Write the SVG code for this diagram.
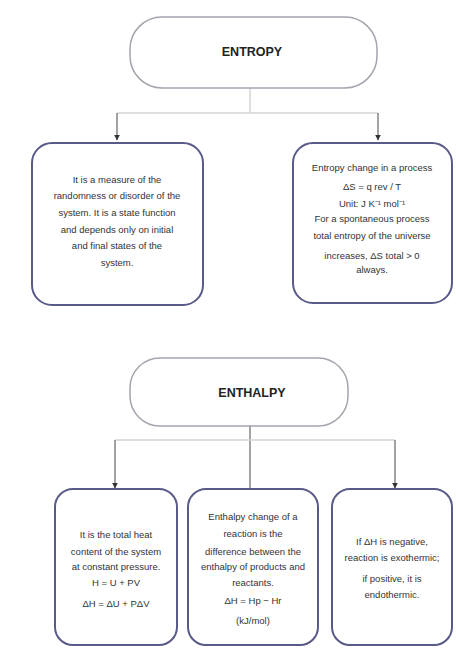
<svg xmlns="http://www.w3.org/2000/svg" width="456" height="652" viewBox="0 0 456 652">
<defs>
<marker id="arr" viewBox="0 0 10 10" refX="9" refY="5" markerWidth="5" markerHeight="5" orient="auto"><path d="M0,0 L10,5 L0,10 z" fill="#333"/></marker>
<style>
.pill{fill:#fff;stroke:#a4a4ae;stroke-width:1.5}
.box{fill:#fff;stroke:#5a5a88;stroke-width:2}
.title{font-family:"Liberation Sans",Arial,sans-serif;font-size:12.5px;font-weight:bold;fill:#222;text-anchor:middle}
.body{font-family:"Liberation Sans",Arial,sans-serif;font-size:9.5px;fill:#333;text-anchor:middle}
.con{fill:none;stroke:#d4d4d4;stroke-width:1.5}
.con2{fill:none;stroke:#666;stroke-width:1.2}
</style>
</defs>
<rect width="456" height="652" fill="#fff"/>
<g id="connectors">
<path class="con" d="M250,88 V113"/>
<path class="con" d="M117,113 H378"/>
<path class="con2" d="M117,113 V140" marker-end="url(#arr)"/>
<path class="con2" d="M378,113 V140" marker-end="url(#arr)"/>
<path class="con2" d="M250,426 V489"/>
<path class="con" d="M250,440 H115 M250,440 H395"/>
<path class="con2" d="M115,440 V488" marker-end="url(#arr)"/>
<path class="con2" d="M395,440 V488" marker-end="url(#arr)"/>
</g>
<g id="entropy">
<rect class="pill" x="130" y="17" width="247" height="71" rx="32"/>
<text class="title" x="252" y="56">ENTROPY</text>
</g>
<g id="entropy-definition">
<rect class="box" x="32" y="143" width="171" height="162" rx="20"/>
<text class="body" x="117" y="183">It is a measure of the</text>
<text class="body" x="117" y="199">randomness or disorder of the</text>
<text class="body" x="117" y="216">system. It is a state function</text>
<text class="body" x="117" y="233">and depends only on initial</text>
<text class="body" x="117" y="249">and final states of the</text>
<text class="body" x="117" y="266">system.</text>
</g>
<g id="entropy-change">
<rect class="box" x="293" y="143" width="159" height="160" rx="20"/>
<text class="body" x="372" y="171">Entropy change in a process</text>
<text class="body" x="372" y="190">ΔS = q rev / T</text>
<text class="body" x="372" y="207">Unit: J K⁻¹ mol⁻¹</text>
<text class="body" x="372" y="222">For a spontaneous process</text>
<text class="body" x="372" y="239">total entropy of the universe</text>
<text class="body" x="372" y="259">increases, ΔS total &gt; 0</text>
<text class="body" x="372" y="273">always.</text>
</g>
<g id="enthalpy">
<rect class="pill" x="130" y="358" width="218" height="68" rx="30"/>
<text class="title" x="252" y="397">ENTHALPY</text>
</g>
<g id="enthalpy-definition">
<rect class="box" x="55" y="489" width="122" height="156" rx="18"/>
<text class="body" x="116" y="538">It is the total heat</text>
<text class="body" x="116" y="555">content of the system</text>
<text class="body" x="116" y="570">at constant pressure.</text>
<text class="body" x="116" y="586">H = U + PV</text>
<text class="body" x="116" y="607">ΔH = ΔU + PΔV</text>
</g>
<g id="enthalpy-change">
<rect class="box" x="188" y="489" width="130" height="156" rx="18"/>
<text class="body" x="253" y="520">Enthalpy change of a</text>
<text class="body" x="253" y="537">reaction is the</text>
<text class="body" x="253" y="555">difference between the</text>
<text class="body" x="253" y="570">enthalpy of products and</text>
<text class="body" x="253" y="586">reactants.</text>
<text class="body" x="253" y="604">ΔH = Hp − Hr</text>
<text class="body" x="253" y="624">(kJ/mol)</text>
</g>
<g id="enthalpy-sign">
<rect class="box" x="332" y="489" width="120" height="156" rx="18"/>
<text class="body" x="392" y="545">If ΔH is negative,</text>
<text class="body" x="392" y="561">reaction is exothermic;</text>
<text class="body" x="392" y="582">if positive, it is</text>
<text class="body" x="392" y="598">endothermic.</text>
</g>
</svg>
